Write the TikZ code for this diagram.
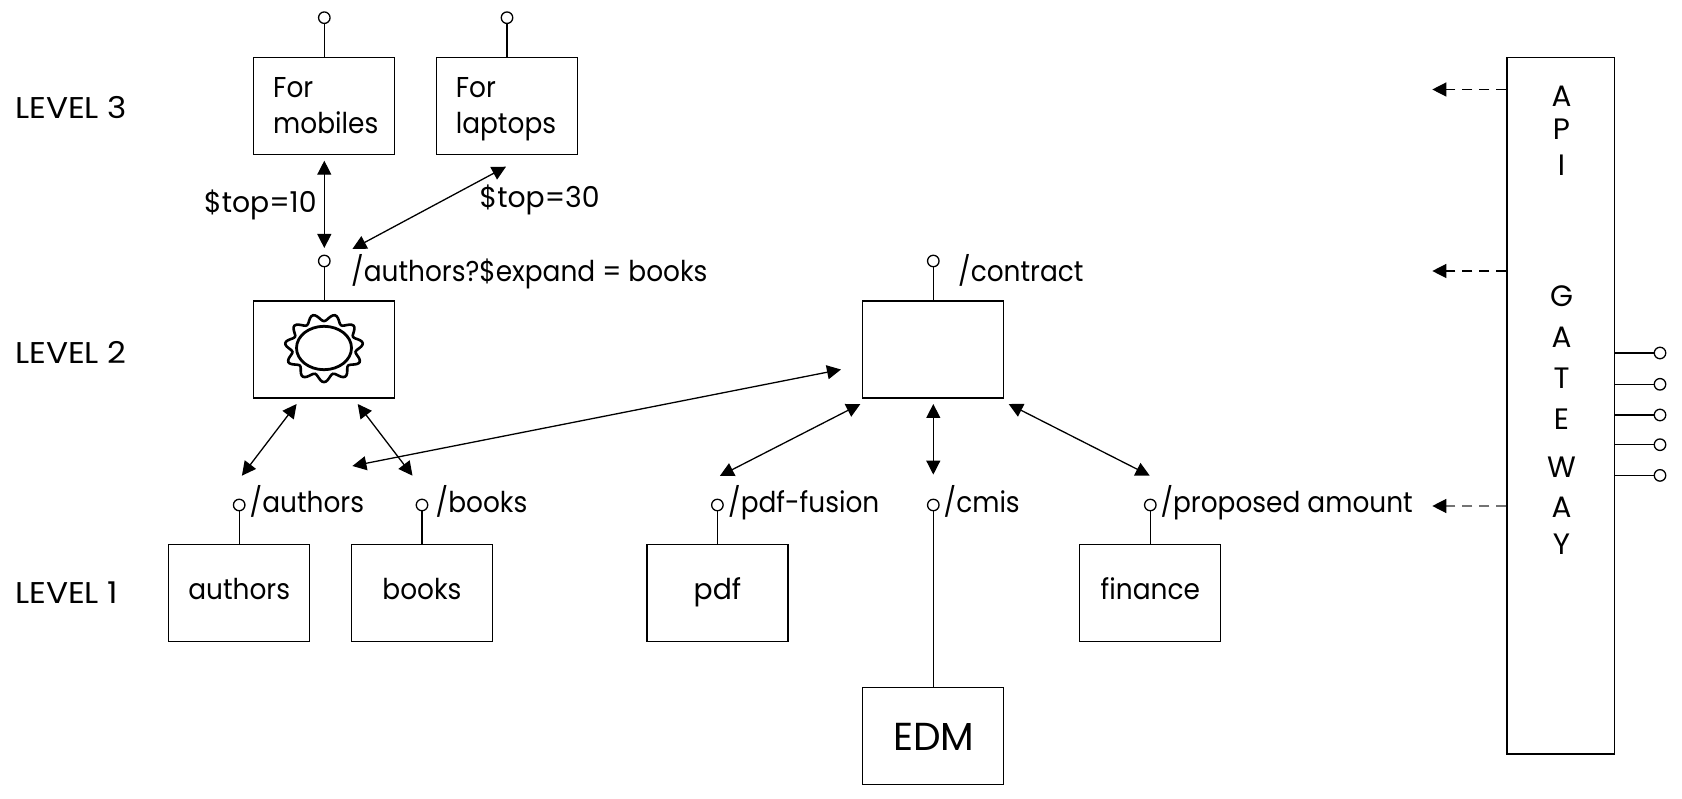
\documentclass[tikz,border=0pt]{standalone}
\usepackage{fontspec}
\setmainfont{Poppins}[FakeStretch=0.92]
\newfontfamily\widefont{Poppins}[FakeStretch=0.985]
\newfontfamily\levelfont{Poppins}[FakeStretch=1.09]
\newfontfamily\edmfont{Poppins}
\usetikzlibrary{arrows.meta}
\tikzset{
  every picture/.append style={x=1pt,y=-1pt},
  conn/.style={line width=1.3pt,draw=black},
  dbl/.style={conn,{Triangle[length=14pt,width=14pt]}-{Triangle[length=14pt,width=14pt]}},
  dash1/.style={conn,dash pattern=on 10pt off 7pt,-{Triangle[length=14pt,width=14pt]}},
  boxn/.style={draw=black,line width=1.3pt,rectangle,inner sep=0pt,minimum width=141pt,minimum height=97pt},
  pin/.style={draw=black,line width=1.3pt,circle,inner sep=0pt,minimum size=11.5pt},
  txt/.style={inner sep=0pt,anchor=base west,yshift=-1.2pt,font=\fontsize{28.7}{28.7}\selectfont},
  wtxt/.style={inner sep=0pt,anchor=base west,yshift=-1.2pt,font=\widefont\fontsize{28.7}{28.7}\selectfont},
  lvl/.style={inner sep=0pt,anchor=base west,yshift=-1.8pt,font=\levelfont\fontsize{30}{30}\selectfont},
  ctr/.style={inner sep=0pt,anchor=base,yshift=-1.2pt,font=\fontsize{28.7}{28.7}\selectfont},
  gwl/.style={inner sep=0pt,anchor=base,font=\edmfont\fontsize{29.5}{29.5}\selectfont},
}
\begin{document}
\begin{tikzpicture}
\useasboundingbox (0,0) rectangle (1682,799);
% boxes
\node[boxn] (mob) at (324.3,106) {};
\node[boxn] (lap) at (507,106) {};
\node[boxn] (aut) at (324.3,349.5) {};
\node[boxn] (con) at (933.3,349.5) {};
\node[boxn] (bau) at (239.2,593) {};
\node[boxn] (bbo) at (422,593) {};
\node[boxn] (bpd) at (717.4,593) {};
\node[boxn] (bfi) at (1150.3,593) {};
\node[boxn] (edm) at (933.3,735.7) {};
\node[draw=black,line width=1.3pt,rectangle,inner sep=0pt,minimum width=107.7pt,minimum height=696.5pt] (gw) at (1560.8,405.8) {};
% pins
\node[pin] (pmob) at (324.3,17.7) {};
\node[pin] (plap) at (507,17.7) {};
\node[pin] (paut) at (324.3,261) {};
\node[pin] (pcon) at (933.3,261) {};
\node[pin] (pbau) at (239.2,505) {};
\node[pin] (pbbo) at (422,505) {};
\node[pin] (pbpd) at (717.4,505) {};
\node[pin] (pcmi) at (933.3,505) {};
\node[pin] (pbfi) at (1150.3,505) {};
\node[pin] (r1) at (1660,353) {};
\node[pin] (r2) at (1660,384.3) {};
\node[pin] (r3) at (1660,415) {};
\node[pin] (r4) at (1660,444.7) {};
\node[pin] (r5) at (1660,475.4) {};
% pin stems
\draw[conn] (pmob) -- (mob);
\draw[conn] (plap) -- (lap);
\draw[conn] (paut) -- (aut);
\draw[conn] (pcon) -- (con);
\draw[conn] (pbau) -- (bau);
\draw[conn] (pbbo) -- (bbo);
\draw[conn] (pbpd) -- (bpd);
\draw[conn] (pbfi) -- (bfi);
\draw[conn] (pcmi) -- (edm);
\foreach \r in {r1,r2,r3,r4,r5} \draw[conn] (gw.east |- \r) -- (\r);
% arrow end points
\coordinate (a1) at (324.3,160.7); \coordinate (a2) at (324.3,248);
\coordinate (b1) at (506,166.7); \coordinate (b2) at (352.4,249);
\coordinate (c1) at (296.6,404); \coordinate (c2) at (241.9,475.7);
\coordinate (d1) at (357.7,404); \coordinate (d2) at (412.5,475.7);
\coordinate (e1) at (841,369.5); \coordinate (e2) at (352.4,466);
\coordinate (f1) at (860.4,404); \coordinate (f2) at (719.8,476);
\coordinate (g1) at (933.3,404); \coordinate (g2) at (933.3,474.6);
\coordinate (h1) at (1008.7,404); \coordinate (h2) at (1149.7,475.6);
\draw[dbl] (a1) -- (a2);
\draw[dbl] (b1) -- (b2);
\draw[dbl] (c1) -- (c2);
\draw[dbl] (d1) -- (d2);
\draw[dbl] (e1) -- (e2);
\draw[dbl] (f1) -- (f2);
\draw[dbl] (g1) -- (g2);
\draw[dbl] (h1) -- (h2);
% dashed
\coordinate (t1) at (1432.3,89.5);
\coordinate (t2) at (1432.3,271);
\coordinate (t3) at (1432.3,506);
\draw[dash1] (gw.west |- t1) -- (t1);
\draw[dash1] (gw.west |- t2) -- (t2);
\draw[dash1,draw=black!55,-{Triangle[length=14pt,width=14pt,black]}] (gw.west |- t3) -- (t3);
% sun icon
\draw[line width=2.8pt] (324,348) ellipse [x radius=27.5pt,y radius=21.7pt];
\draw[line width=2.6pt,smooth,samples=133,domain=0:360] plot ({324+(35.5+3.6*cos(11*(\x-90)))*cos(\x)},{348+(30.5+3.6*cos(11*(\x-90)))*sin(\x)});
% labels
\node[lvl] (l3) at (15,116.7) {LEVEL 3};
\node[lvl] (l2) at (15,361.7) {LEVEL 2};
\node[lvl] (l1) at (15,601.7) {LEVEL 1};
\node[txt] (m1) at (273,96.7) {For};
\node[txt] (m2) at (273,132.7) {mobiles};
\node[txt] (n1) at (455.6,96.7) {For};
\node[txt] (n2) at (455.6,132.7) {laptops};
\node[wtxt] (s1) at (204,211.7) {\$top=10};
\node[wtxt] (s2) at (479.5,206.7) {\$top=30};
\node[txt] (u1) at (351,280.7) {/authors?\$expand = books};
\node[txt] (u2) at (958,280.7) {/contract};
\node[txt] (u3) at (249.5,511.7) {/authors};
\node[txt] (u4) at (435.5,511.7) {/books};
\node[txt] (u5) at (728,511.7) {/pdf-fusion};
\node[txt] (u6) at (943.5,511.7) {/cmis};
\node[txt] (u7) at (1160.3,511.7) {/proposed amount};
\node[ctr] (v1) at (239.2,598.3) {authors};
\node[ctr] (v2) at (422,598.3) {books};
\node[ctr,font=\widefont\fontsize{28.7}{28.7}\selectfont] (v3) at (717.4,598.3) {pdf};
\node[ctr] (v4) at (1150.3,598.3) {finance};
\node[ctr,font=\edmfont\fontsize{39}{39}\selectfont] (v5) at (933.8,749) {EDM};
\foreach \n/\c/\y in {g1/A/107,g2/P/140,g3/I/176,g4/G/307,g5/A/348,g6/T/389,g7/E/430,g8/W/478,g9/A/517,g10/Y/554}
  \node[gwl] (\n) at (1561.5,\y) {\c};
\end{tikzpicture}
\end{document}
